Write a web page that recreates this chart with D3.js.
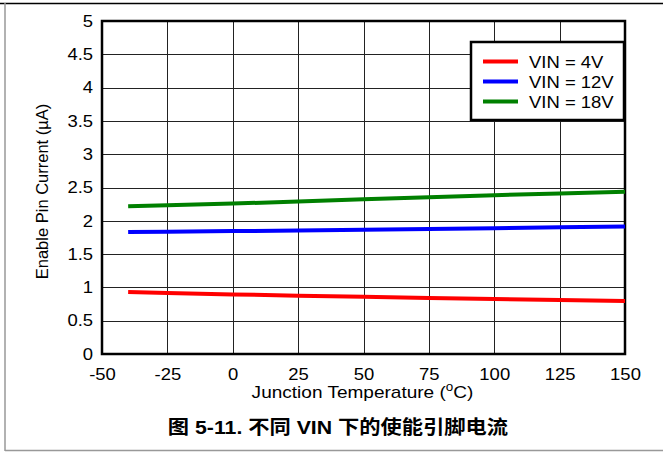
<!DOCTYPE html>
<html lang="zh">
<head>
  <meta charset="UTF-8">
  <title>Enable Pin Current vs Junction Temperature</title>
  <script src="https://d3js.org/d3.v7.min.js"></script>
  <style>
    body { margin: 0; background: #fff; }
    svg { display: block; }
    .tick text { font-family: "Liberation Sans", Arial, sans-serif; font-size: 16.5px; fill: #000; }
  </style>
</head>
<body>
  <svg width="663" height="452"></svg>
  <script>
    // data
    const temps = [-40, -25, 0, 25, 50, 75, 100, 125, 150];
    const vin4 = [0.93, 0.915, 0.895, 0.875, 0.858, 0.842, 0.827, 0.812, 0.797];
    const vin12 = [1.83, 1.835, 1.845, 1.855, 1.866, 1.878, 1.89, 1.902, 1.913];
    const vin18 = [2.22, 2.235, 2.258, 2.29, 2.325, 2.355, 2.385, 2.41, 2.435];
    const seriesNames = ["VIN = 4V", "VIN = 12V", "VIN = 18V"];
    const seriesColors = ["#ff0000", "#0000ff", "#008000"];
    const xTicks = [-50, -25, 0, 25, 50, 75, 100, 125, 150];
    const yTicks = [0, 0.5, 1, 1.5, 2, 2.5, 3, 3.5, 4, 4.5, 5];

    const series = [vin4, vin12, vin18].map((vals, i) => ({
      name: seriesNames[i],
      color: seriesColors[i],
      values: temps.map((t, j) => ({ t: t, v: vals[j] }))
    }));

    const svg = d3.select("svg");
    const font = "'Liberation Sans', Arial, sans-serif";
    const stretch = 1.12; // the source text is drawn a bit wide

    // outer figure frame
    svg.append("line").attr("x1", 0).attr("x2", 663).attr("y1", 3.5).attr("y2", 3.5)
      .attr("stroke", "#000").attr("stroke-width", 1.5);
    svg.append("line").attr("x1", 5).attr("x2", 5).attr("y1", 3).attr("y2", 451)
      .attr("stroke", "#999").attr("stroke-width", 1.5);
    svg.append("line").attr("x1", 5).attr("x2", 663).attr("y1", 450.5).attr("y2", 450.5)
      .attr("stroke", "#999").attr("stroke-width", 1.5);

    const pLeft = 102, pRight = 625, pTop = 21, pBottom = 354;
    const x = d3.scaleLinear().domain([-50, 150]).range([pLeft, pRight]);
    const y = d3.scaleLinear().domain([0, 5]).range([pBottom, pTop]);

    // grid
    const grid = svg.append("g");
    grid.selectAll(".gx").data(xTicks.slice(1, -1)).enter().append("line")
      .attr("x1", d => Math.round(x(d)) + 0.5).attr("x2", d => Math.round(x(d)) + 0.5)
      .attr("y1", pTop).attr("y2", pBottom)
      .attr("stroke", "#222").attr("stroke-width", 1);
    grid.selectAll(".gy").data(yTicks.slice(1, -1)).enter().append("line")
      .attr("x1", pLeft).attr("x2", pRight)
      .attr("y1", d => Math.round(y(d)) + 0.5).attr("y2", d => Math.round(y(d)) + 0.5)
      .attr("stroke", "#222").attr("stroke-width", 1);

    // axes (labels only, frame drawn separately)
    const xAxis = svg.append("g").attr("transform", `translate(0,${pBottom})`)
      .call(d3.axisBottom(x).tickValues(xTicks).tickSize(0).tickPadding(14).tickFormat(d => String(d)));
    xAxis.select(".domain").remove();
    xAxis.selectAll(".tick text").attr("transform", `scale(${stretch},1)`);

    const yAxis = svg.append("g").attr("transform", `translate(${pLeft},0)`)
      .call(d3.axisLeft(y).tickValues(yTicks).tickSize(0).tickPadding(8).tickFormat(d => String(d)));
    yAxis.select(".domain").remove();
    yAxis.selectAll(".tick text").attr("transform", `scale(${stretch},1)`);

    // plot frame
    svg.append("rect").attr("x", pLeft).attr("y", pTop)
      .attr("width", pRight - pLeft).attr("height", pBottom - pTop)
      .attr("fill", "none").attr("stroke", "#000").attr("stroke-width", 2.5);

    // lines
    const line = d3.line().x(d => x(d.t)).y(d => y(d.v));
    svg.selectAll(".series").data(series).enter().append("path")
      .attr("fill", "none")
      .attr("stroke", d => d.color)
      .attr("stroke-width", 4)
      .attr("d", d => line(d.values));

    // legend
    const lg = svg.append("g").attr("transform", "translate(471,42)");
    lg.append("rect").attr("width", 153).attr("height", 78)
      .attr("fill", "#fff").attr("stroke", "#000").attr("stroke-width", 2.5);
    series.forEach((s, i) => {
      const ly = 19.5 + i * 20;
      lg.append("line").attr("x1", 12).attr("x2", 47).attr("y1", ly).attr("y2", ly)
        .attr("stroke", s.color).attr("stroke-width", 4);
      lg.append("text").attr("transform", `translate(58,${ly + 6}) scale(${stretch},1)`)
        .attr("font-family", font).attr("font-size", 16.5).text(s.name);
    });

    // axis titles
    svg.append("text")
      .attr("transform", `translate(${(pLeft + pRight) / 2 - 1},398) scale(${stretch},1)`)
      .attr("text-anchor", "middle").attr("font-family", font).attr("font-size", 17)
      .html("Junction Temperature (<tspan baseline-shift='super' font-size='12'>o</tspan>C)");
    svg.append("text")
      .attr("transform", `translate(48,${(pTop + pBottom) / 2 + 4}) rotate(-90)`)
      .attr("text-anchor", "middle").attr("font-family", font).attr("font-size", 16.5)
      .text("Enable Pin Current (\u00b5A)");

    // caption
    svg.append("text")
      .attr("transform", `translate(338,434) scale(${stretch},1)`)
      .attr("text-anchor", "middle")
      .attr("font-family", "'Liberation Sans', 'Noto Sans CJK SC', sans-serif")
      .attr("font-size", 19).attr("font-weight", "bold")
      .text("图 5-11. 不同 VIN 下的使能引脚电流");
  </script>
</body>
</html>
